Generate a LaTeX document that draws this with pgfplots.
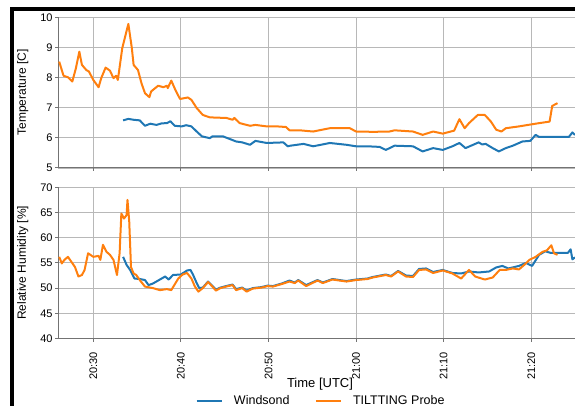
\documentclass[border=0pt]{standalone}
\usepackage{fontspec}
\setmainfont{Liberation Sans}
\usepackage{pgfplots}
\pgfplotsset{compat=1.18}
\definecolor{wblue}{RGB}{31,119,180}
\definecolor{torange}{RGB}{255,127,14}

\pgfplotsset{
  panel/.style={
    scale only axis, width=516.7bp, xmin=26, xmax=85,
    axis x line*=bottom, axis y line*=left,
    xtick={30,40,50,60,70,80},
    grid=major, major grid style={black!28, line width=1.1bp},
    axis line style={black!55, line width=1bp},
    tick style={black!55, line width=1bp},
    major tick length=3bp, tick align=outside,
    ticklabel style={font=\fontsize{11bp}{13bp}\selectfont},
    /pgf/number format/assume math mode=true,
    yticklabel style={inner sep=0pt, xshift=-2.5bp},
    ylabel style={font=\fontsize{12bp}{14bp}\selectfont, at={(axis description cs:-0.069,0.5)}, anchor=center},
    every axis plot/.append style={line width=2bp, line join=round},
  }
}

\begin{document}
\begin{tikzpicture}
\useasboundingbox (0,0) rectangle (575bp,406bp);
% frame of the screenshot
\fill[black] (10bp,0bp) rectangle (14bp,399.3bp);
\fill[black] (10bp,395.3bp) rectangle (575bp,399.3bp);

% ---------- Temperature ----------
\begin{axis}[panel, at={(58.3bp,238bp)}, anchor=south west, height=150.7bp,
  ymin=5, ymax=10, ytick={5,6,7,8,9,10}, xticklabels={},
  ylabel={Temperature [C]}]
\addplot[wblue] coordinates {
(33.4,6.58)(34.0,6.63)(34.6,6.60)(35.3,6.58)(35.9,6.40)(36.5,6.47)(37.2,6.43)(37.8,6.48)
(38.4,6.49)(38.8,6.55)(39.3,6.40)(40.1,6.38)(40.6,6.42)(41.2,6.38)(41.8,6.21)(42.4,6.05)
(43.3,5.99)(43.6,6.05)(44.8,6.05)(45.6,5.96)(46.3,5.88)(47.0,5.85)(47.9,5.77)(48.5,5.90)
(49.8,5.83)(51.7,5.85)(52.2,5.72)(52.5,5.74)(54.0,5.80)(55.1,5.72)(57.0,5.83)(58.9,5.77)
(60.0,5.72)(61.3,5.72)(62.7,5.70)(63.4,5.60)(64.4,5.74)(66.5,5.72)(67.6,5.55)(68.8,5.66)
(69.9,5.60)(71.0,5.72)(71.8,5.83)(72.5,5.66)(74.0,5.85)(74.4,5.78)(74.8,5.80)(75.6,5.66)
(76.3,5.55)(77.1,5.66)(77.9,5.74)(79.0,5.88)(79.9,5.90)(80.5,6.10)(80.9,6.03)(84.3,6.03)
(84.7,6.18)(85.0,6.10)
};
\addplot[torange] coordinates {
(26.1,8.53)(26.6,8.06)(27.1,8.01)(27.6,7.87)(28.0,8.30)(28.4,8.86)(28.7,8.42)(29.2,8.25)
(29.5,8.20)(30.0,7.92)(30.6,7.68)(30.9,7.98)(31.4,8.33)(31.9,8.23)(32.3,7.98)(32.6,8.06)
(32.8,7.92)(33.3,8.97)(34.0,9.78)(34.4,8.97)(34.6,8.42)(35.1,8.25)(35.5,7.81)(35.9,7.48)
(36.4,7.35)(36.6,7.54)(37.4,7.73)(38.0,7.68)(38.4,7.73)(38.5,7.65)(38.9,7.90)(39.4,7.57)
(39.9,7.29)(40.8,7.34)(41.2,7.26)(41.8,6.99)(42.5,6.76)(43.3,6.68)(44.2,6.67)(45.2,6.66)
(45.9,6.60)(46.1,6.66)(46.7,6.49)(47.9,6.40)(48.5,6.43)(49.8,6.38)(51.0,6.38)(52.0,6.36)
(52.4,6.25)(53.6,6.25)(55.1,6.21)(57.0,6.32)(59.3,6.32)(60.0,6.21)(62.0,6.20)(63.8,6.21)
(64.4,6.25)(66.5,6.21)(67.6,6.10)(68.8,6.21)(69.9,6.14)(71.2,6.24)(71.8,6.62)(72.4,6.32)
(72.9,6.49)(73.9,6.76)(74.7,6.76)(75.4,6.54)(76.0,6.27)(76.6,6.21)(77.1,6.32)(78.6,6.38)
(80.5,6.47)(82.1,6.54)(82.4,7.06)(83.0,7.15)
};
\end{axis}

% ---------- Relative humidity ----------
\begin{axis}[panel, at={(58.3bp,67.5bp)}, anchor=south west, height=151.2bp,
  ymin=40, ymax=70, ytick={40,45,50,55,60,65,70},
  xticklabels={20:30,20:40,20:50,21:00,21:10,21:20},
  xticklabel style={rotate=90, anchor=east, inner sep=0pt},
  xticklabel shift=10.5bp,
  ylabel={Relative Humidity [\%]},
  xlabel={Time [UTC]},
  xlabel style={font=\fontsize{13bp}{15bp}\selectfont, at={(axis description cs:0.5065,-0.303)}, anchor=center},
  legend columns=2,
  legend style={at={(axis description cs:0.5065,-0.413)}, anchor=center, draw=none, fill=none,
    font=\fontsize{12.5bp}{14bp}\selectfont,
    /tikz/every odd column/.append style={column sep=11bp},
    /tikz/every even column/.append style={column sep=25bp},
    nodes={inner sep=0pt}},
  legend image code/.code={\draw[#1, line width=2.5bp] (0bp,0bp) -- (25bp,0bp);},
  ]
\addplot[wblue] coordinates {
(33.4,56.2)(33.8,54.6)(34.2,53.6)(34.7,51.9)(35.3,51.8)(35.9,51.6)(36.3,50.6)(36.8,50.9)
(37.6,51.7)(38.2,52.3)(38.6,51.7)(39.1,52.6)(40.0,52.7)(40.7,53.5)(41.1,53.6)(41.4,52.6)
(41.8,51.0)(42.1,50.0)(42.5,50.1)(43.1,51.3)(43.6,50.4)(44.0,49.7)(44.5,50.1)(45.4,50.5)
(45.9,50.7)(46.3,49.8)(47.0,50.1)(47.5,49.5)(48.2,50.0)(49.2,50.2)(49.9,50.5)(50.5,50.4)
(51.5,50.9)(52.4,51.5)(53.0,51.1)(53.4,51.6)(54.3,50.6)(55.6,51.6)(56.2,51.1)(57.3,51.8)
(58.9,51.4)(60.0,51.7)(61.3,51.9)(61.9,52.2)(63.4,52.7)(64.0,52.4)(64.8,53.4)(65.7,52.5)
(66.5,52.4)(67.2,53.8)(68.0,53.9)(68.8,53.2)(69.9,53.6)(71.0,53.0)(72.0,52.9)(72.9,53.3)
(74.0,53.1)(75.2,53.3)(76.0,54.1)(76.7,54.4)(77.4,53.9)(78.6,54.4)(79.4,55.0)(80.1,54.4)
(80.9,56.6)(81.6,57.3)(82.2,57.0)(82.9,57.0)(84.2,57.0)(84.5,57.7)(84.7,55.7)(85.0,56.1)
};
\addlegendentry{Windsond}
\addplot[torange] coordinates {
(26.1,56.2)(26.4,54.9)(26.7,55.6)(27.1,56.2)(27.5,55.2)(27.9,54.2)(28.3,52.3)(28.7,52.6)
(29.0,53.6)(29.4,56.9)(30.0,56.2)(30.6,56.4)(30.8,55.6)(31.1,58.6)(31.5,57.2)(31.9,56.6)
(32.3,55.6)(32.7,52.6)(33.0,56.9)(33.2,64.8)(33.5,63.8)(33.8,64.5)(33.9,67.5)(34.1,63.2)
(34.3,54.2)(34.6,52.9)(34.9,52.6)(35.3,51.6)(35.9,50.3)(36.8,50.0)(37.6,49.6)(38.4,49.8)
(38.9,49.6)(39.7,51.9)(40.2,52.7)(40.7,53.0)(41.2,51.9)(41.6,50.3)(42.0,49.3)(42.5,50.0)
(43.1,51.2)(43.6,50.3)(44.0,49.5)(44.5,50.0)(45.4,50.4)(45.9,50.6)(46.3,49.6)(47.0,50.0)
(47.5,49.3)(48.2,49.9)(49.2,50.1)(49.9,50.4)(50.5,50.3)(51.5,50.8)(52.4,51.3)(53.0,51.0)
(53.4,51.5)(54.3,50.4)(55.6,51.5)(56.2,51.0)(57.3,51.7)(58.9,51.3)(60.0,51.6)(61.3,51.8)
(61.9,52.1)(63.4,52.6)(64.0,52.3)(64.8,53.3)(65.7,52.3)(66.5,52.2)(67.2,53.6)(68.0,53.7)
(68.8,53.0)(69.9,53.5)(71.0,52.9)(72.0,51.9)(72.9,53.6)(73.6,52.3)(74.7,51.7)(75.6,52.1)
(76.4,53.6)(77.1,53.6)(77.9,53.9)(78.6,53.7)(79.2,54.6)(79.8,55.6)(80.5,56.2)(81.3,57.2)
(81.8,57.5)(82.3,58.5)(82.6,56.9)(83.0,56.6)
};
\addlegendentry{TILTTING Probe}
\end{axis}
\end{tikzpicture}
\end{document}
